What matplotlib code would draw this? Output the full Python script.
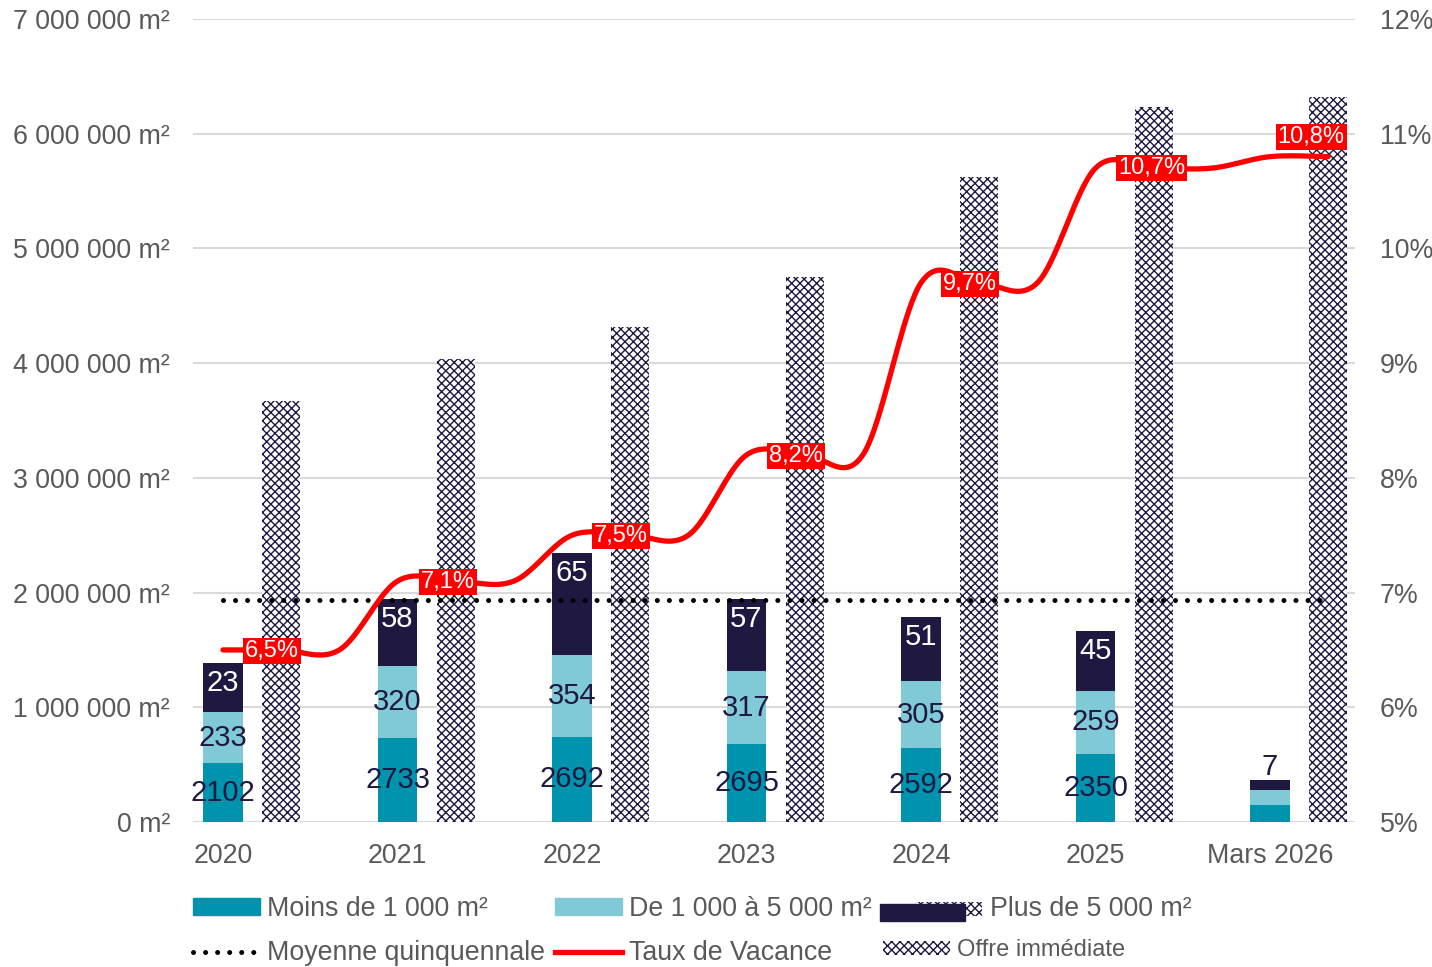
import numpy as np
import matplotlib
matplotlib.use("Agg")
import matplotlib.pyplot as plt
from matplotlib.patches import Patch, Rectangle
from matplotlib.lines import Line2D
from matplotlib.ticker import FuncFormatter, MultipleLocator

plt.rcParams["font.family"] = ["Liberation Sans", "DejaVu Sans"]
plt.rcParams["hatch.linewidth"] = 1.0

# --- data --------------------------------------------------------------
categories = ["2020", "2021", "2022", "2023", "2024", "2025", "Mars 2026"]
moins_1000 = [510000, 728000, 745000, 684000, 641000, 597000, 144000]
de_1000_5000 = [453000, 628000, 715000, 628000, 584000, 549000, 139000]
plus_5000 = [419000, 584000, 881000, 636000, 558000, 515000, 79000]
nb_moins_1000 = [2102, 2733, 2692, 2695, 2592, 2350, None]
nb_1000_5000 = [233, 320, 354, 317, 305, 259, None]
nb_plus_5000 = [23, 58, 65, 57, 51, 45, 7]
offre_immediate = [3666000, 4032000, 4311000, 4747000, 5627000, 6237000, 6324000]
taux_vacance = [6.5, 7.1, 7.5, 8.2, 9.7, 10.7, 10.8]
moyenne_quinquennale = 1931000

C_TEAL = "#0093ad"
C_LIGHT = "#80c9d6"
C_DARK = "#1f1840"
C_RED = "#ff0000"
C_TXT = "#595959"
C_GRID = "#d9d9d9"
FS = 19.3
HATCH = "xxxx"

x = np.arange(len(categories))
OFF = 1 / 3          # hatched bar sits one slot right of the stacked bar
W1, W2 = 0.224, 0.218

fig = plt.figure(figsize=(14.32, 9.67), dpi=100)
ax = fig.add_axes([193 / 1432, 1 - 822 / 967, (1355 - 193) / 1432, (822 - 19) / 967])

m1 = np.array(moins_1000)
m2 = np.array(de_1000_5000)
m3 = np.array(plus_5000)
ax.bar(x, m1, W1, color=C_TEAL, zorder=2)
ax.bar(x, m2, W1, bottom=m1, color=C_LIGHT, zorder=2)
ax.bar(x, m3, W1, bottom=m1 + m2, color=C_DARK, zorder=2)
ax.bar(x + OFF, offre_immediate, W2, color="white", edgecolor=C_DARK,
       hatch=HATCH, lw=0, zorder=2)

# segment labels
for i in range(len(x)):
    if nb_moins_1000[i] is not None:
        ax.text(x[i], m1[i] / 2, str(nb_moins_1000[i]), ha="center", va="center",
                fontsize=21, color=C_DARK, zorder=4)
    if nb_1000_5000[i] is not None:
        ax.text(x[i], m1[i] + m2[i] / 2, str(nb_1000_5000[i]), ha="center",
                va="center", fontsize=21, color=C_DARK, zorder=4)
    top = m1[i] + m2[i] + m3[i]
    if m3[i] > 200000:
        ax.annotate(str(nb_plus_5000[i]), (x[i], top), xytext=(0, -20),
                    textcoords="offset pixels", ha="center", va="center",
                    fontsize=21, color="white", zorder=4)
    else:
        ax.annotate(str(nb_plus_5000[i]), (x[i], top), xytext=(0, 13),
                    textcoords="offset pixels", ha="center", va="center",
                    fontsize=21, color=C_DARK, zorder=4)

# five-year average
ax.plot([x[0], x[-1] + OFF], [moyenne_quinquennale] * 2, color="black", lw=3.6,
        ls=(0, (0.01, 2.4)), dash_capstyle="round", zorder=3)

ax.set_xlim(-0.172, 6.487)
ax.set_ylim(0, 7000000)
ax.yaxis.set_major_locator(MultipleLocator(1000000))
ax.yaxis.set_major_formatter(FuncFormatter(
    lambda v, p: f"{int(v):,}".replace(",", " ") + " m²"))
ax.set_xticks(x)
ax.set_xticklabels(categories)
ax.grid(axis="y", color=C_GRID, lw=1.5)
ax.set_axisbelow(True)
for s in ax.spines.values():
    s.set_visible(False)
ax.tick_params(axis="y", length=0, pad=16.5, labelsize=FS, labelcolor=C_TXT)
ax.tick_params(axis="x", length=0, pad=15, labelsize=FS, labelcolor=C_TXT)

# vacancy rate on the right axis: the rate holds over the three slots of each
# year (bar, offer bar, gap), smoothed like a spreadsheet line
ax2 = ax.twinx()
ax2.set_ylim(5, 12)
ax2.yaxis.set_major_locator(MultipleLocator(1))
ax2.yaxis.set_major_formatter(FuncFormatter(lambda v, p: f"{v:.0f}%"))
ax2.tick_params(axis="y", length=0, pad=18, labelsize=FS, labelcolor=C_TXT)
for s in ax2.spines.values():
    s.set_visible(False)

slots = np.array([0, 1, 2]) / 3
px = np.concatenate([x[:-1, None] + slots, [[x[-1], x[-1] + OFF]]], axis=None)
py = np.concatenate([np.repeat(taux_vacance[:-1], 3), [taux_vacance[-1]] * 2])
P = np.column_stack([px, py])
Pp = np.vstack([P[0], P, P[-1]])
t = np.linspace(0, 1, 40)[:, None]
h00 = 2 * t**3 - 3 * t**2 + 1
h10 = t**3 - 2 * t**2 + t
h01 = -2 * t**3 + 3 * t**2
h11 = t**3 - t**2
curve = []
for i in range(1, len(Pp) - 2):
    mt0 = (Pp[i + 1] - Pp[i - 1]) / 2
    mt1 = (Pp[i + 2] - Pp[i]) / 2
    curve.append(h00 * Pp[i] + h10 * mt0 + h01 * Pp[i + 1] + h11 * mt1)
curve = np.vstack(curve)
ax2.plot(curve[:, 0], curve[:, 1], color=C_RED, lw=3.8, solid_capstyle="round",
         zorder=5)

lab_off = [(-9, -1), (-8, -1), (-9, -1), (-9, -1), (-9, -1), (-2, 0), (-17, 20)]
for i, v in enumerate(taux_vacance):
    ax2.annotate(f"{v:.1f}%".replace(".", ","), (x[i] + OFF, v),
                 xytext=lab_off[i], textcoords="offset pixels",
                 ha="center", va="center", fontsize=17, color="white",
                 bbox=dict(boxstyle="square,pad=0.08", fc=C_RED, ec="none"),
                 zorder=6)


class PlusHandler:
    """Dark block partly covering a hatched one, as in the source legend."""

    def legend_artist(self, legend, orig_handle, fontsize, handlebox):
        x0, y0 = handlebox.xdescent, handlebox.ydescent
        w, h = handlebox.width, handlebox.height
        hat = Rectangle((x0 + 0.34 * w, y0 + 0.1 * h), 0.66 * w, 0.85 * h,
                        facecolor="white", edgecolor=C_DARK, hatch=HATCH, lw=0,
                        transform=handlebox.get_transform())
        dark = Rectangle((x0, y0 - 0.2 * h), 0.83 * w, 1.05 * h, color=C_DARK,
                         transform=handlebox.get_transform())
        handlebox.add_artist(hat)
        handlebox.add_artist(dark)
        return dark


common = dict(loc="upper left", frameon=False, borderpad=0, borderaxespad=0,
              handleheight=0.55, labelcolor=C_TXT)
leg1 = fig.legend(
    [Patch(color=C_TEAL),
     Line2D([], [], color="black", lw=3.6, ls=(0, (0.01, 2.4)),
            dash_capstyle="round"),
     Patch(color=C_LIGHT),
     Line2D([], [], color=C_RED, lw=3.8)],
    ["Moins de 1 000 m²", "Moyenne quinquennale", "De 1 000 à 5 000 m²",
     "Taux de Vacance"],
    ncol=2, bbox_to_anchor=(193 / 1432, 1 - 896 / 967), fontsize=FS,
    handlelength=2.5, handletextpad=0.27, columnspacing=0.36,
    labelspacing=0.69, **common)
leg2 = fig.legend([Patch(color=C_DARK)], ["Plus de 5 000 m²"],
                  handler_map={Patch: PlusHandler()},
                  bbox_to_anchor=(880 / 1432, 1 - 896 / 967), fontsize=FS,
                  handlelength=3.8, handletextpad=0.3, **common)
leg3 = fig.legend([Patch(facecolor="white", edgecolor=C_DARK, hatch=HATCH, lw=0)],
                  ["Offre immédiate"],
                  bbox_to_anchor=(883 / 1432, 1 - 939 / 967), fontsize=17,
                  handlelength=2.84, handletextpad=0.3, **common)

fig.savefig("out.png", dpi=100)
